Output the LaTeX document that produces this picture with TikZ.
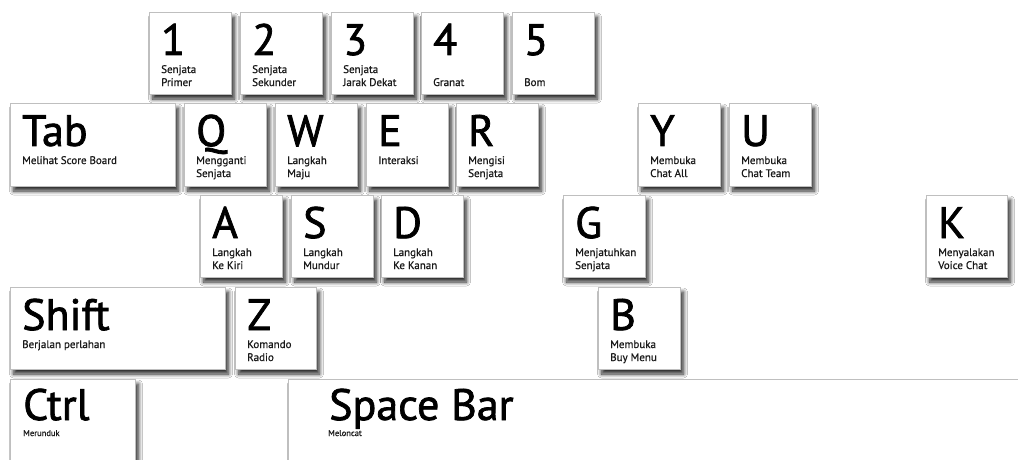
\documentclass[tikz,border=0pt]{standalone}
\usepackage{fontspec}
\setmainfont{PT Sans}
\newfontfamily\keyfont[FakeBold=1.6]{PT Sans}
\newfontfamily\lblfont[FakeBold=0.6]{PT Sans}
\usetikzlibrary{shadows.blur}
\tikzset{
  keybox/.style={draw=black!25, line width=0.6pt, fill=white, rectangle,
    inner sep=0pt, outer sep=0pt, anchor=north west,
    blur shadow={shadow xshift=3.5pt, shadow yshift=-5pt, shadow blur steps=10, shadow blur radius=4pt, shadow opacity=85}},
  bigc/.style={font=\keyfont\fontsize{44}{44}\selectfont, inner sep=0pt, anchor=base west, text=black, text depth=0pt},
  lbl/.style={font=\lblfont\fontsize{11}{13}\selectfont, inner sep=0pt, anchor=base west, text=black!90},
  lblsmall/.style={font=\lblfont\fontsize{8.5}{10}\selectfont, inner sep=0pt, anchor=base west, text=black!90}
}
\newcommand\mykey[7]{%
  \node[keybox, minimum width=#4pt, minimum height=#5pt] (#1) at (#2,-#3) {};
  \node[bigc] (#1c) at ([xshift=12pt,yshift=-43pt]#1.north west) {#6};
  \node[lbl] (#1a) at ([xshift=12pt,yshift=-61pt]#1.north west) {#7};
}
\newcommand\mylineb[2]{%
  \node[lbl] (#1b) at ([xshift=12pt,yshift=-74pt]#1.north west) {#2};
}
\begin{document}
\begin{tikzpicture}[x=1pt,y=1pt]
\useasboundingbox (0,0) rectangle (1018,-460);
\fill[white] (0,0) rectangle (1018,-460);
\clip (0,0) rectangle (1018,-460);
% row 1
\mykey{k1}{149}{12}{82}{82}{1}{Senjata}\mylineb{k1}{Primer}
\mykey{k2}{240}{12}{82}{82}{2}{Senjata}\mylineb{k2}{Sekunder}
\mykey{k3}{331}{12}{82}{82}{3}{Senjata}\mylineb{k3}{Jarak Dekat}
\mykey{k4}{421}{12}{82}{82}{4}{}\mylineb{k4}{Granat}
\mykey{k5}{512}{12}{82}{82}{5}{}\mylineb{k5}{Bom}
% row 2
\mykey{tab}{10}{103}{165}{83}{Tab}{Melihat Score Board}
\mykey{q}{184}{103}{82}{83}{Q}{Mengganti}\mylineb{q}{Senjata}
\mykey{w}{275}{103}{82}{83}{W}{Langkah}\mylineb{w}{Maju}
\mykey{e}{366}{103}{82}{83}{E}{Interaksi}
\mykey{r}{456}{103}{82}{83}{R}{Mengisi}\mylineb{r}{Senjata}
\mykey{y}{638}{103}{82}{83}{Y}{Membuka}\mylineb{y}{Chat All}
\mykey{u}{729}{103}{82}{83}{U}{Membuka}\mylineb{u}{Chat Team}
% row 3
\mykey{a}{200}{195}{82}{82}{A}{Langkah}\mylineb{a}{Ke Kiri}
\mykey{s}{291}{195}{82}{82}{S}{Langkah}\mylineb{s}{Mundur}
\mykey{d}{381}{195}{82}{82}{D}{Langkah}\mylineb{d}{Ke Kanan}
\mykey{g}{563}{195}{82}{82}{G}{Menjatuhkan}\mylineb{g}{Senjata}
\mykey{k}{926}{195}{81}{82}{K}{Menyalakan}\mylineb{k}{Voice Chat}
% row 4
\mykey{shift}{10}{287}{215}{82}{Shift}{Berjalan perlahan}
\mykey{z}{235}{287}{81}{82}{Z}{Komando}\mylineb{z}{Radio}
\mykey{b}{598}{287}{82}{82}{B}{Membuka}\mylineb{b}{Buy Menu}
% row 5
\node[keybox, minimum width=125pt, minimum height=110pt] (ctrl) at (10,-379) {};
\node[bigc] (ctrlc) at ([xshift=13pt,yshift=-41pt]ctrl.north west) {Ctrl};
\node[lblsmall] (ctrla) at ([xshift=13pt,yshift=-57pt]ctrl.north west) {Merunduk};
\node[keybox, minimum width=760pt, minimum height=110pt] (space) at (288,-379) {};
\node[bigc] (spacec) at ([xshift=41pt,yshift=-41pt]space.north west) {Space Bar};
\node[lblsmall] (spacea) at ([xshift=40pt,yshift=-57pt]space.north west) {Meloncat};
\end{tikzpicture}
\end{document}
